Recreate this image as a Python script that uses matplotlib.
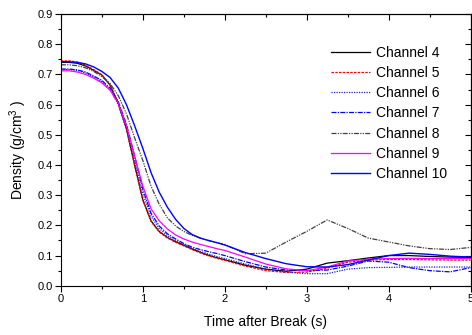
import matplotlib
matplotlib.use("Agg")
import matplotlib.pyplot as plt
from matplotlib.ticker import MultipleLocator

plt.rcParams['font.family'] = ['Liberation Sans', 'DejaVu Sans']
plt.rcParams['mathtext.fontset'] = 'custom'
plt.rcParams['mathtext.rm'] = 'Liberation Sans'

# time axis (s)
tiempo = [0.0, 0.1, 0.2, 0.3, 0.4, 0.5, 0.6, 0.7, 0.8, 0.9, 1.0,
          1.1, 1.2, 1.3, 1.4, 1.5, 1.6, 1.7, 1.8, 1.9, 2.0,
          2.25, 2.5, 2.75, 3.0, 3.25, 3.5, 3.75, 4.0, 4.25, 4.5, 4.75, 5.0]

# densidades (g/cm3)
canal4 = [0.740, 0.740, 0.737, 0.728, 0.714, 0.698, 0.665, 0.605, 0.520, 0.400, 0.285,
          0.215, 0.180, 0.160, 0.146, 0.134, 0.122, 0.111, 0.101, 0.093, 0.086,
          0.068, 0.055, 0.048, 0.055, 0.075, 0.083, 0.092, 0.100, 0.100, 0.097, 0.095, 0.094]
canal5 = [0.745, 0.745, 0.741, 0.731, 0.716, 0.699, 0.665, 0.603, 0.518, 0.398, 0.283,
          0.213, 0.178, 0.158, 0.144, 0.132, 0.120, 0.109, 0.099, 0.091, 0.084,
          0.065, 0.050, 0.044, 0.045, 0.058, 0.078, 0.085, 0.087, 0.087, 0.086, 0.085, 0.085]
canal6 = [0.716, 0.716, 0.713, 0.705, 0.692, 0.676, 0.650, 0.600, 0.520, 0.415, 0.305,
          0.230, 0.190, 0.166, 0.150, 0.136, 0.124, 0.114, 0.105, 0.097, 0.090,
          0.072, 0.055, 0.045, 0.040, 0.040, 0.055, 0.060, 0.061, 0.062, 0.062, 0.062, 0.062]
canal7 = [0.718, 0.718, 0.715, 0.708, 0.695, 0.680, 0.655, 0.610, 0.535, 0.430, 0.320,
          0.240, 0.198, 0.172, 0.155, 0.140, 0.128, 0.120, 0.113, 0.107, 0.100,
          0.080, 0.062, 0.052, 0.050, 0.052, 0.065, 0.082, 0.078, 0.060, 0.050, 0.046, 0.060]
canal8 = [0.732, 0.732, 0.729, 0.722, 0.710, 0.693, 0.670, 0.630, 0.570, 0.490, 0.415,
          0.330, 0.270, 0.225, 0.198, 0.180, 0.167, 0.158, 0.150, 0.143, 0.137,
          0.106, 0.108, 0.145, 0.180, 0.218, 0.190, 0.158, 0.145, 0.132, 0.123, 0.120, 0.127]
canal9 = [0.712, 0.712, 0.708, 0.700, 0.688, 0.672, 0.648, 0.605, 0.530, 0.430, 0.330,
          0.255, 0.215, 0.188, 0.168, 0.155, 0.145, 0.137, 0.130, 0.123, 0.117,
          0.095, 0.072, 0.056, 0.050, 0.062, 0.082, 0.088, 0.090, 0.091, 0.090, 0.090, 0.090]
canal10 = [0.742, 0.742, 0.740, 0.735, 0.725, 0.710, 0.690, 0.655, 0.600, 0.530, 0.455,
           0.375, 0.310, 0.260, 0.220, 0.190, 0.170, 0.158, 0.150, 0.143, 0.135,
           0.110, 0.090, 0.073, 0.063, 0.062, 0.070, 0.085, 0.100, 0.108, 0.104, 0.098, 0.095]

fig = plt.figure(figsize=(4.72, 3.35), dpi=100)
ax = fig.add_axes([0.129, 0.147, 0.868, 0.811])

ax.plot(tiempo, canal4, color='black', lw=0.9, ls='-', label='Channel 4')
ax.plot(tiempo, canal5, color='red', lw=0.9, ls=(0, (2, 1)), label='Channel 5')
ax.plot(tiempo, canal6, color='#2020c0', lw=0.9, ls=(0, (1, 1)), label='Channel 6')
ax.plot(tiempo, canal7, color='blue', lw=0.9, ls=(0, (4, 1, 1, 1)), label='Channel 7')
ax.plot(tiempo, canal8, color='#404040', lw=0.9, ls=(0, (4, 1, 1, 1, 1, 1)), label='Channel 8')
ax.plot(tiempo, canal9, color='magenta', lw=0.9, ls='-', label='Channel 9')
ax.plot(tiempo, canal10, color='blue', lw=1.0, ls='-', label='Channel 10')

ax.set_xlim(0, 5)
ax.set_ylim(0, 0.9)
ax.xaxis.set_major_locator(MultipleLocator(1))
ax.xaxis.set_minor_locator(MultipleLocator(0.5))
ax.yaxis.set_major_locator(MultipleLocator(0.1))
ax.yaxis.set_minor_locator(MultipleLocator(0.05))
ax.yaxis.set_major_formatter(plt.FuncFormatter(lambda v, p: f'{v:.1f}'))
ax.tick_params(which='major', direction='out', length=4, width=0.8, labelsize=8, pad=2)
ax.tick_params(which='minor', direction='out', length=2, width=0.8)

# ejes espejo arriba y a la derecha con marcas hacia dentro
arriba = ax.secondary_xaxis('top')
arriba.xaxis.set_major_locator(MultipleLocator(1))
arriba.xaxis.set_minor_locator(MultipleLocator(0.5))
arriba.tick_params(which='major', direction='in', length=4, width=0.8, labeltop=False)
arriba.tick_params(which='minor', direction='in', length=2, width=0.8)
derecha = ax.secondary_yaxis('right')
derecha.yaxis.set_major_locator(MultipleLocator(0.1))
derecha.yaxis.set_minor_locator(MultipleLocator(0.05))
derecha.tick_params(which='major', direction='in', length=4, width=0.8, labelright=False)
derecha.tick_params(which='minor', direction='in', length=2, width=0.8)

ax.set_xlabel('Time after Break (s)', fontsize=10, labelpad=8)
ax.set_ylabel('Density (g/cm$^{3}$ )', fontsize=10, labelpad=6)

ax.legend(loc='upper left', bbox_to_anchor=(0.702, 0.864), bbox_transform=fig.transFigure,
          frameon=False, fontsize=10, handlelength=2.8, handletextpad=0.4,
          labelspacing=0.45, borderpad=0, borderaxespad=0)

fig.savefig('out.png', dpi=100)
